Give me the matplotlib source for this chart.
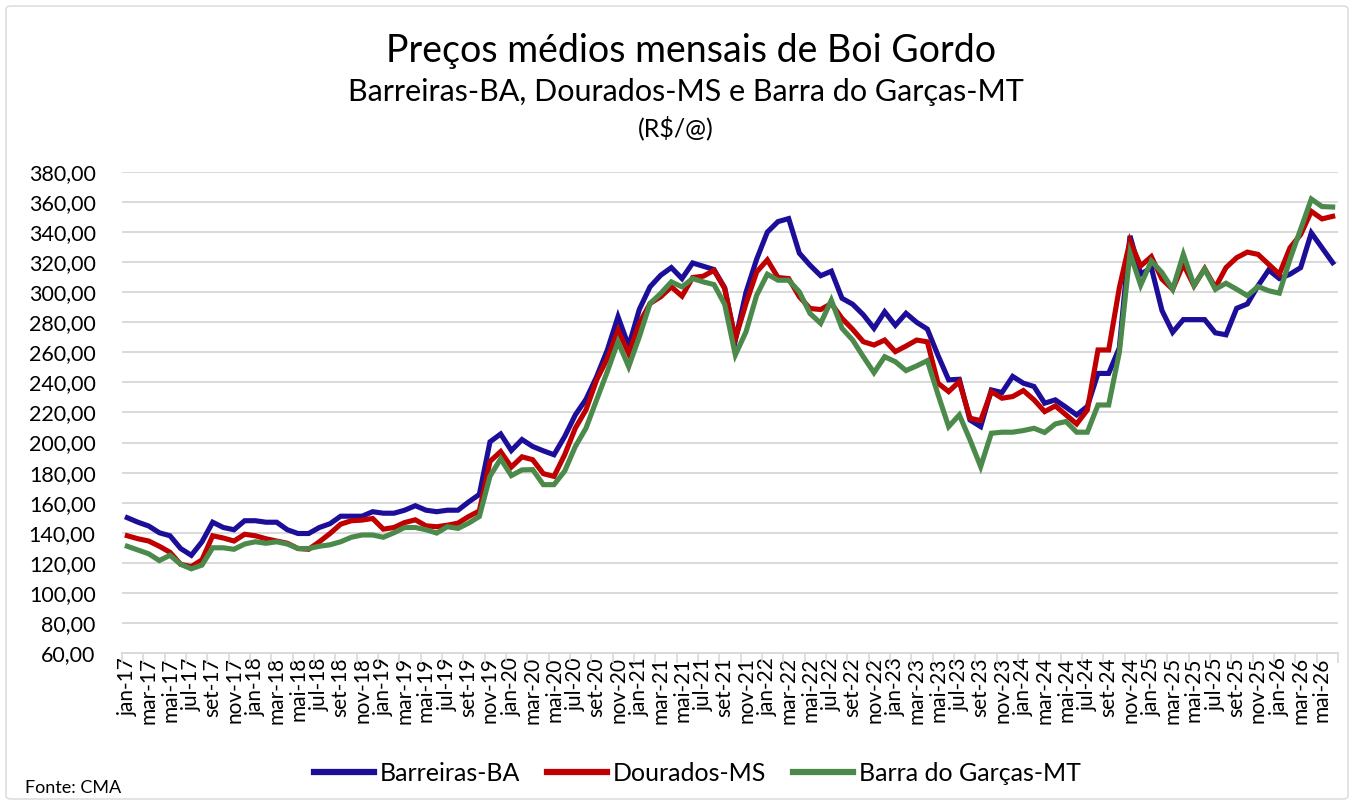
import matplotlib
matplotlib.use("Agg")
import matplotlib.pyplot as plt
from matplotlib.patches import FancyBboxPatch
import numpy as np

months_pt = ["jan", "fev", "mar", "abr", "mai", "jun", "jul", "ago", "set", "out", "nov", "dez"]
categories = [f"{months_pt[m]}-{y:02d}" for y in range(17, 27) for m in range(12)][:114]

barreiras = [150, 147, 144.5, 140, 138, 129.5, 125, 134, 147, 143.5, 142, 148, 148, 147, 147, 142,
             139.5, 139.5, 143.5, 146, 151, 151, 151, 154, 153, 153, 155, 158, 155, 154, 155, 155,
             160.5, 165.5, 200.5, 205.7, 194.7, 202, 197.4, 194.5, 191.9, 204, 218.4, 228.8, 243.9,
             261.6, 283.7, 264.2, 288.6, 303.6, 311.3, 316.4, 309.1, 319.5, 317.3, 315.1, 303, 268,
             300, 322, 340, 347, 349, 326, 318, 311, 314, 296, 292, 285, 276, 287, 278, 286, 280,
             275.5, 258, 241.7, 242.1, 215, 210.6, 235, 233.3, 244, 239.5, 237.3, 226.2, 228.4,
             223.5, 218.4, 224, 246, 246, 263, 337.5, 312, 316.4, 287.8, 273.4, 281.8, 281.8, 281.8,
             273, 271.7, 289.3, 292.2, 304.3, 314.8, 309.1, 312, 316.4, 339.5, 329.6, 319.7]

dourados = [138, 136, 134.5, 131, 127, 119, 117.5, 122, 138, 136.5, 134.5, 139, 138, 136, 134.5, 133,
            129.5, 129, 134, 139.5, 145.7, 148, 148.4, 149.5, 142.4, 143.5, 146.8, 148.6, 144.6, 144,
            145, 146.4, 150.8, 154.5, 187.5, 194, 183.7, 190.5, 188.6, 179.3, 177.5, 191.9, 209.6,
            221.8, 241.7, 256, 274.8, 259.3, 279.3, 292.5, 297, 303.6, 297.4, 309.8, 310.7, 314.6,
            302.5, 269, 292.5, 313.5, 321.5, 309.8, 309.1, 297, 289.2, 288.5, 292.5, 282.6, 275.3,
            267.1, 264.9, 268.2, 260.5, 264.2, 268.2, 267, 239.5, 233.9, 240.6, 216.2, 214.6, 233.9,
            229.5, 230.6, 234.6, 228.4, 220.6, 224.4, 218.4, 212.4, 221.7, 261.6, 261.6, 303, 334,
            317.5, 323.7, 308.7, 302, 318.6, 304.3, 315.7, 303.2, 316.4, 323, 326.7, 325.2, 318.6,
            312, 329.6, 338.4, 353.8, 348.8, 350.5]

barra_garcas = [131, 128.5, 126, 121.5, 125, 119, 116, 118.5, 130, 130, 129, 132.5, 134, 133, 134,
                132.5, 129.5, 129.5, 131, 132, 134, 137, 138.5, 138.5, 137, 140, 143.5, 143.5, 142,
                139.8, 144, 142.9, 146.4, 150.8, 177.6, 189.2, 178, 181.8, 182, 172, 172, 181, 197.4,
                209.6, 228.5, 247.2, 267.1, 250.5, 270.4, 292.5, 299.2, 306.9, 303.6, 309.1, 306.9,
                305.1, 292, 258.3, 273.7, 298, 312, 308, 308, 300.3, 285.9, 279.3, 294.7, 276, 268.2,
                257.1, 246.5, 257.1, 253.8, 247.9, 251, 254.5, 232, 210.6, 218.4, 201.8, 184, 206.2,
                206.9, 206.9, 208, 209.5, 206.7, 212.4, 214, 206.9, 206.9, 225, 225, 260, 326, 304.7,
                320.8, 313.1, 302, 325.2, 304.7, 315.3, 302, 306, 302, 297.7, 303.8, 301, 299.4, 322,
                342, 362, 357, 356.7]

series_names = ["Barreiras-BA", "Dourados-MS", "Barra do Garças-MT"]
series_colors = ["#1C0E99", "#C00000", "#4B8A4B"]
yticks = list(range(60, 381, 20))

FONT = ["Lato", "DejaVu Sans"]
plt.rcParams['font.family'] = FONT

W, H = 1354, 805
fig = plt.figure(figsize=(W / 100, H / 100), dpi=100)

# chart border
fig.patches.append(FancyBboxPatch((6 / W, 6 / H), (W - 12) / W, (H - 12) / H,
                                  boxstyle="round,pad=0,rounding_size=0.004",
                                  transform=fig.transFigure, facecolor="white",
                                  edgecolor="#D9D9D9", linewidth=1.0, zorder=-10))

left, right, top, bottom = 122, 1338, 172, 653
ax = fig.add_axes([left / W, 1 - bottom / H, (right - left) / W, (bottom - top) / H])

x = np.arange(len(categories))
for vals, name, col in zip([barreiras, dourados, barra_garcas], series_names, series_colors):
    ax.plot(x, vals, color=col, lw=3.7, label=name, solid_joinstyle="miter", zorder=3)

ax.set_xlim(-0.5, len(categories) - 0.5)
ax.set_ylim(60, 380)
ax.set_yticks(yticks)
ax.set_yticklabels([f"{v:.2f}".replace(".", ",") for v in yticks], fontsize=15.5, color="#000000")
ax.yaxis.grid(True, color="#D9D9D9", lw=1.4)
ax.set_axisbelow(True)
ax.tick_params(axis="y", length=0, pad=19)

ax.set_xticks(x[::2])
ax.set_xticklabels(categories[::2], rotation=90, fontsize=15, color="#000000")
ax.set_xticks(np.arange(-0.5, len(categories), 2), minor=True)
ax.tick_params(axis="x", which="major", length=0, pad=3)
ax.tick_params(axis="x", which="minor", length=7, color="#D9D9D9", width=1.2)

for s in ["top", "right", "left"]:
    ax.spines[s].set_visible(False)
ax.spines["bottom"].set_color("#D9D9D9")
ax.spines["bottom"].set_linewidth(1.4)

fig.text(691 / W, 1 - 51 / H, "Preços médios mensais de Boi Gordo", ha="center", va="center", fontsize=27)
fig.text(686 / W, 1 - 92 / H, "Barreiras-BA, Dourados-MS e Barra do Garças-MT", ha="center", va="center", fontsize=22)
fig.text(676 / W, 1 - 128 / H, "(R$/@)", ha="center", va="center", fontsize=18)
fig.text(25 / W, 1 - 788 / H, "Fonte: CMA", ha="left", va="center", fontsize=13)

leg = fig.legend(loc="center", bbox_to_anchor=(0.515, 1 - 773 / H), ncol=3, frameon=False,
                 fontsize=18, handlelength=2.4, columnspacing=1.05, handletextpad=0.25)
for h in leg.get_lines():
    h.set_linewidth(4.5)

fig.savefig("out.png", dpi=100)
